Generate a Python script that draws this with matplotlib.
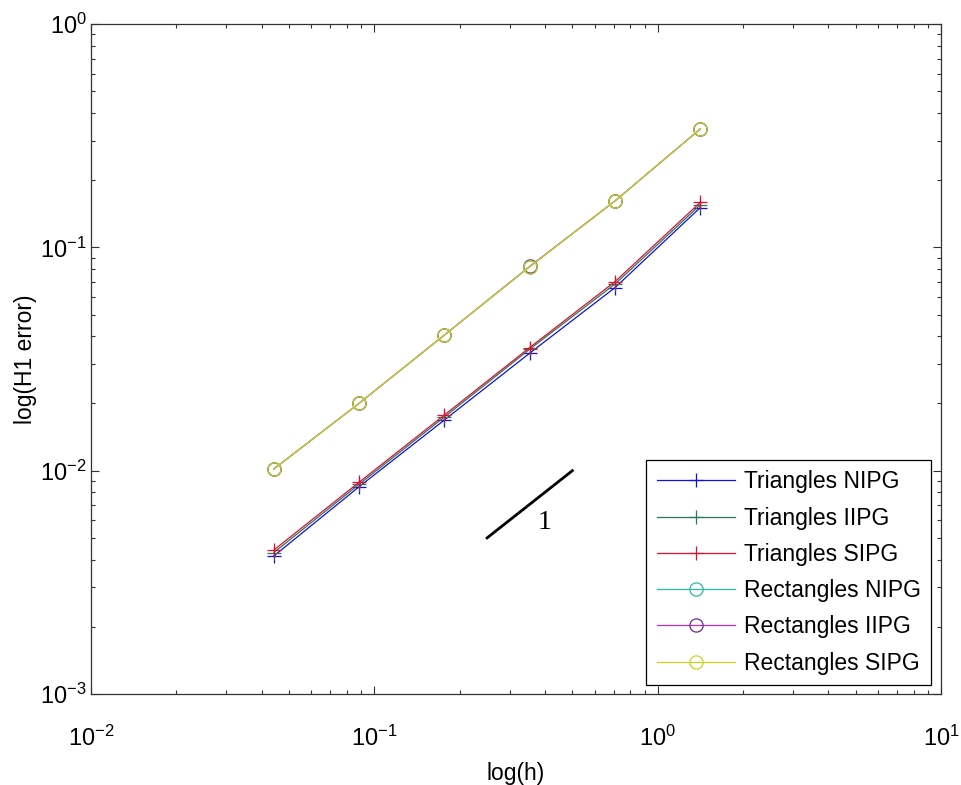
import matplotlib
matplotlib.use("Agg")
import matplotlib.pyplot as plt
from matplotlib import font_manager

# ---- data ----
h = [1.4142, 0.7071, 0.3536, 0.1768, 0.0884, 0.0442]
tri_nipg = [0.1507, 0.0660, 0.0336, 0.01687, 0.00848, 0.00415]
tri_iipg = [0.1550, 0.0685, 0.0350, 0.01740, 0.00870, 0.00430]
tri_sipg = [0.1590, 0.0702, 0.0356, 0.01776, 0.00888, 0.00441]
rect_nipg = [0.3390, 0.1614, 0.0819, 0.0405, 0.02004, 0.01018]
rect_iipg = [0.3390, 0.1614, 0.0822, 0.0405, 0.02004, 0.01018]
rect_sipg = [0.3390, 0.1614, 0.0819, 0.0405, 0.02004, 0.01018]
labels = ["Triangles NIPG", "Triangles IIPG", "Triangles SIPG",
          "Rectangles NIPG", "Rectangles IIPG", "Rectangles SIPG"]
slope_x = [0.25, 0.5]
slope_y = [0.005, 0.01]

names = {f.name for f in font_manager.fontManager.ttflist}
sans = "Liberation Sans" if "Liberation Sans" in names else "DejaVu Sans"
plt.rcParams["font.family"] = [sans, "DejaVu Sans"]
plt.rcParams["mathtext.fontset"] = "custom"
plt.rcParams["mathtext.rm"] = sans
plt.rcParams["mathtext.it"] = sans + ":italic"
plt.rcParams["mathtext.default"] = "regular"

fig = plt.figure(figsize=(9.61, 7.85), dpi=100)
ax = fig.add_axes([91/961, 1 - 694/785, 850/961, 670/785])

series = [tri_nipg, tri_iipg, tri_sipg, rect_nipg, rect_iipg, rect_sipg]
colors = ["#1010e0", "#2a7a55", "#e01030", "#2cb8a0", "#c030c0", "#c8d420"]
mecs = ["#1010e0", "#2a7a55", "#e01030", "#2cb8a0", "#6a2a90", "#c8d420"]
markers = ["+", "+", "+", "o", "o", "o"]
for ys, c, mec, m, lab in zip(series, colors, mecs, markers, labels):
    ax.plot(h, ys, color=c, marker=m, markersize=9.5, markeredgecolor=mec,
            markerfacecolor="none", markeredgewidth=0.9, linewidth=0.9, label=lab)

ax.plot(slope_x, slope_y, color="black", linewidth=2)
ax.text(0.40, 0.00548, "1", ha="center", va="baseline", fontsize=20,
        family=["Liberation Serif", "DejaVu Serif"])

ax.set_xscale("log")
ax.set_yscale("log")
ax.set_xlim(1e-2, 1e1)
ax.set_ylim(1e-3, 1e0)

ax.set_xlabel("log(h)", fontsize=16.5, labelpad=8)
ax.set_ylabel("log(H1 error)", fontsize=16.5, labelpad=2)

for s in ax.spines.values():
    s.set_color("#333333")
    s.set_linewidth(0.9)
ax.tick_params(which="both", direction="in", top=True, right=True, colors="#333333",
               labelcolor="black", width=0.8)
ax.tick_params(which="major", length=6, labelsize=17)
ax.tick_params(which="minor", length=3)
ax.tick_params(axis="x", which="major", pad=23)
ax.tick_params(axis="y", which="major", pad=3)

leg = ax.legend(loc="lower right", bbox_to_anchor=(931/961, 1 - 685/785),
                bbox_transform=fig.transFigure, borderaxespad=0, fontsize=16.5,
                handlelength=3.4, handletextpad=0.4, labelspacing=0.58,
                borderpad=0.45, fancybox=False, framealpha=1, edgecolor="black")
leg.get_frame().set_linewidth(0.9)

fig.savefig("out.png", dpi=100)
